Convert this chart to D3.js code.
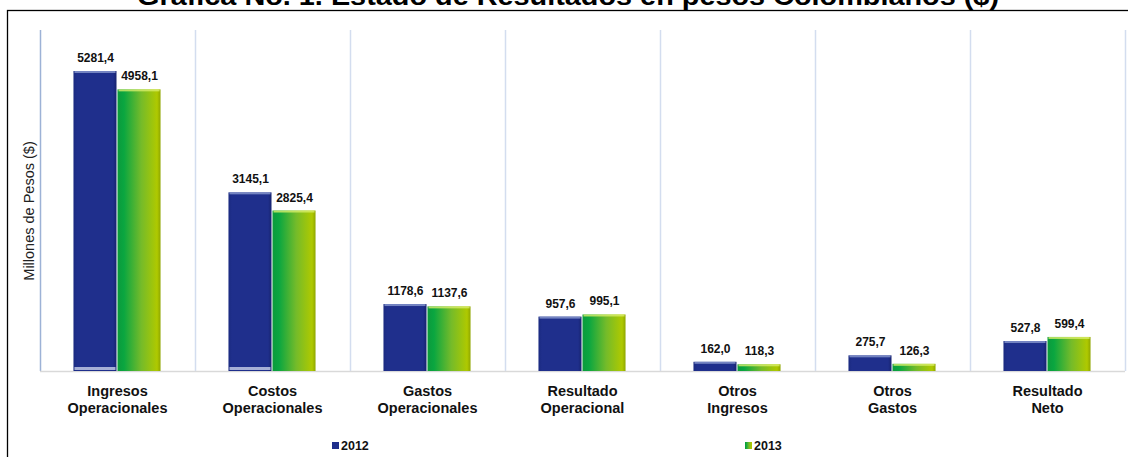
<!DOCTYPE html>
<html>
<head>
<meta charset="utf-8">
<script src="https://cdn.jsdelivr.net/npm/d3@7"></script>
<style>
  body { margin: 0; background: #fff; }
  svg { display: block; font-family: "Liberation Sans", Arial, sans-serif; }
</style>
</head>
<body>
<svg id="chart" width="1128" height="457"></svg>
<script>
// Data
const categories = [
    ["Ingresos", "Operacionales"],
    ["Costos", "Operacionales"],
    ["Gastos", "Operacionales"],
    ["Resultado", "Operacional"],
    ["Otros", "Ingresos"],
    ["Otros", "Gastos"],
    ["Resultado", "Neto"]
];
const years = ["2012", "2013"];
const values2012 = [5281.4, 3145.1, 1178.6, 957.6, 162.0, 275.7, 527.8];
const values2013 = [4958.1, 2825.4, 1137.6, 995.1, 118.3, 126.3, 599.4];

const width = 1128;
const height = 457;
const margin = {top: 30, right: 3, bottom: 86, left: 40};

const svg = d3.select("#chart");

// Gradients for the bars
const defs = svg.append("defs");

const blue = defs.append("linearGradient").attr("id", "gBlue")
    .attr("x1", "0%").attr("x2", "100%").attr("y1", "0%").attr("y2", "0%");
blue.append("stop").attr("offset", "0%").attr("stop-color", "#1a2a80");
blue.append("stop").attr("offset", "8%").attr("stop-color", "#1f2f8c");
blue.append("stop").attr("offset", "92%").attr("stop-color", "#1f2f8c");
blue.append("stop").attr("offset", "100%").attr("stop-color", "#17236f");

const green = defs.append("linearGradient").attr("id", "gGreen")
    .attr("x1", "0%").attr("x2", "100%").attr("y1", "0%").attr("y2", "0%");
green.append("stop").attr("offset", "0%").attr("stop-color", "#0b9a3c");
green.append("stop").attr("offset", "15%").attr("stop-color", "#0aa640");
green.append("stop").attr("offset", "55%").attr("stop-color", "#74bb2a");
green.append("stop").attr("offset", "92%").attr("stop-color", "#afc900");
green.append("stop").attr("offset", "100%").attr("stop-color", "#8fa600");

// Frame
svg.append("rect")
    .attr("x", 7.5).attr("y", 10.5)
    .attr("width", width + 10).attr("height", height + 10)
    .attr("fill", "none").attr("stroke", "#000").attr("stroke-width", 1.3);

// Title (partly cut at the top, as in the original)
svg.append("text")
    .attr("x", 137).attr("y", 5)
    .attr("font-size", 26).attr("font-weight", "bold")
    .attr("textLength", 862)
    .attr("lengthAdjust", "spacingAndGlyphs")
    .text("Gráfica No. 1. Estado de Resultados en pesos Colombianos ($)");

const x = d3.scaleBand()
    .domain(d3.range(categories.length))
    .range([margin.left, width - margin.right])
    .paddingInner(0).paddingOuter(0);

const x1 = d3.scaleBand()
    .domain(years)
    .range([0, x.bandwidth()])
    .paddingOuter(0.76)
    .paddingInner(0);

const y = d3.scaleLinear()
    .domain([0, 5281.4])
    .range([height - margin.bottom, 71]);

const y0 = y(0);

// Vertical separators
svg.append("g")
    .selectAll("line")
    .data(d3.range(categories.length + 1))
    .join("line")
    .attr("x1", d => (d < categories.length ? x(d) : x(d - 1) + x.bandwidth()) + 0.5)
    .attr("x2", d => (d < categories.length ? x(d) : x(d - 1) + x.bandwidth()) + 0.5)
    .attr("y1", margin.top)
    .attr("y2", y0)
    .attr("stroke", d => d === 0 ? "#9db2d6" : "#d3ddef")
    .attr("stroke-width", 1.5);

// Baseline
svg.append("line")
    .attr("x1", margin.left).attr("x2", width - margin.right)
    .attr("y1", y0 + 0.5).attr("y2", y0 + 0.5)
    .attr("stroke", "#d9d9d9").attr("stroke-width", 1.5);

// Y axis label
svg.append("text")
    .attr("transform", "translate(34,211) rotate(-90)")
    .attr("text-anchor", "middle")
    .attr("font-size", 14.5)
    .attr("fill", "#222")
    .text("Millones de Pesos ($)");

const series = [values2012, values2013];
const fills = ["url(#gBlue)", "url(#gGreen)"];
const rows = [];
categories.forEach((c, i) => {
    years.forEach((yr, j) => rows.push({i, yr, j, v: series[j][i]}));
});

const bars = svg.append("g").selectAll("g")
    .data(rows)
    .join("g");

bars.append("rect")
    .attr("x", d => x(d.i) + x1(d.yr))
    .attr("y", d => y(d.v))
    .attr("width", x1.bandwidth() - 1)
    .attr("height", d => y0 - y(d.v))
    .attr("fill", d => fills[d.j]);

// top highlight
bars.append("rect")
    .attr("x", d => x(d.i) + x1(d.yr) + 1)
    .attr("y", d => y(d.v))
    .attr("width", x1.bandwidth() - 3)
    .attr("height", 2)
    .attr("fill", d => d.j === 0 ? "#8a9ad0" : "#d8ee6a")
    .attr("opacity", 0.8);

// bottom highlight on the tall blue bars
bars.filter(d => d.j === 0 && y0 - y(d.v) > 150)
    .append("rect")
    .attr("x", d => x(d.i) + x1(d.yr) + 1)
    .attr("y", y0 - 4)
    .attr("width", x1.bandwidth() - 3)
    .attr("height", 3)
    .attr("fill", "#c8cfe8")
    .attr("opacity", 0.8);

// value labels
bars.append("text")
    .attr("x", d => x(d.i) + x1(d.yr) + x1.bandwidth() / 2)
    .attr("y", d => y(d.v) - 9)
    .attr("text-anchor", "middle")
    .attr("font-size", 12)
    .attr("font-weight", "bold")
    .attr("fill", "#111")
    .text(d => d3.format(".1f")(d.v).replace(".", ","));

// category labels
const cat = svg.append("g").selectAll("text")
    .data(categories)
    .join("text")
    .attr("x", (d, i) => x(i) + x.bandwidth() / 2)
    .attr("y", y0 + 25)
    .attr("text-anchor", "middle")
    .attr("font-size", 14.5)
    .attr("font-weight", "bold")
    .attr("fill", "#111");

cat.selectAll("tspan")
    .data(d => d)
    .join("tspan")
    .attr("x", function() { return this.parentNode.getAttribute("x"); })
    .attr("dy", (d, k) => k === 0 ? 0 : 17)
    .text(d => d);

// Legend
const legendX = [332, 745];
const legend = svg.append("g").selectAll("g")
    .data(years)
    .join("g")
    .attr("transform", (d, i) => `translate(${legendX[i]},450)`);

legend.append("rect")
    .attr("x", 0).attr("y", -8)
    .attr("width", 7).attr("height", 7)
    .attr("fill", (d, i) => fills[i]);

legend.append("text")
    .attr("x", 9).attr("y", 0)
    .attr("font-size", 12.5)
    .attr("font-weight", "bold")
    .attr("fill", "#111")
    .text(d => d);
</script>
</body>
</html>
